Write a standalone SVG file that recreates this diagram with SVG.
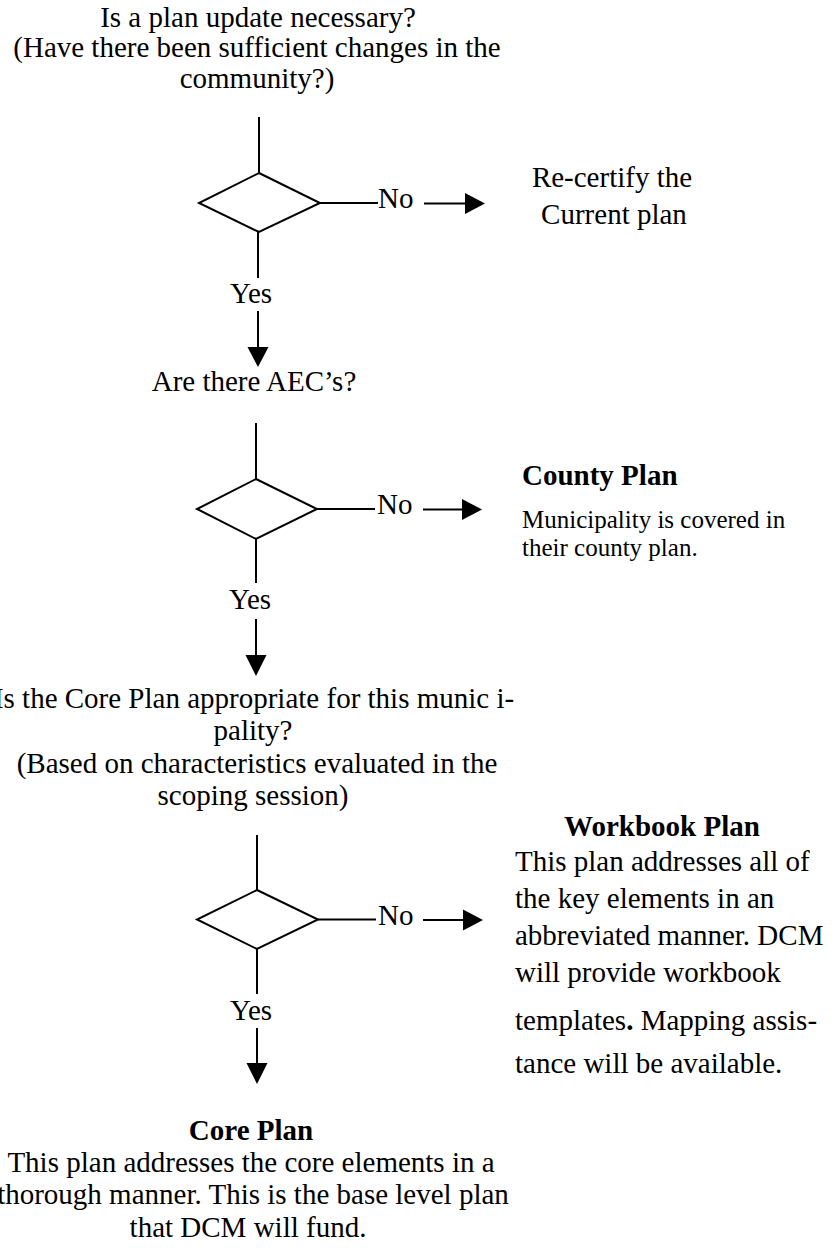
<svg xmlns="http://www.w3.org/2000/svg" width="836" height="1251" viewBox="0 0 836 1251">
<style>
text{font-family:"Liberation Serif","Times New Roman",serif;fill:#000;}
.t{font-size:29px;}
.c{text-anchor:middle;}
.b{font-weight:bold;}
.s{font-size:25px;}
.ln{stroke:#000;stroke-width:2;fill:none;}
.dm{stroke:#000;stroke-width:2;fill:#fff;}
.ah{fill:#000;stroke:none;}
</style>
<rect width="836" height="1251" fill="#fff"/>
<g id="q1">
<text class="t c" x="258" y="27">Is a plan update necessary?</text>
<text class="t c" x="257" y="57">(Have there been sufficient changes in the</text>
<text class="t c" x="257" y="88">community?)</text>
</g>
<g id="d1"><polygon class="dm" points="259,173 320,203 259,232 199,203"/></g>
<g id="recert">
<text class="t c" x="612" y="187">Re-certify the</text>
<text class="t c" x="614" y="224">Current plan</text>
</g>
<g id="q2"><text class="t c" x="254" y="391">Are there AEC’s?</text></g>
<g id="d2"><polygon class="dm" points="256,479 317,509 256,539 197,509"/></g>
<g id="county">
<text class="t b" x="522" y="485">County Plan</text>
<text class="s" x="522" y="528">Municipality is covered in</text>
<text class="s" x="522" y="556">their county plan.</text>
</g>
<g id="q3">
<text class="t c" x="254" y="708">Is the Core Plan appropriate for this munic i-</text>
<text class="t c" x="253" y="740">pality?</text>
<text class="t c" x="257" y="773">(Based on characteristics evaluated in the</text>
<text class="t c" x="253" y="805">scoping session)</text>
</g>
<g id="d3"><polygon class="dm" points="257,890 318,919.5 257,949 197,919.5"/></g>
<g id="workbook">
<text class="t b c" x="662" y="836">Workbook Plan</text>
<text class="t" x="515" y="871">This plan addresses all of</text>
<text class="t" x="515" y="908">the key elements in an</text>
<text class="t" x="515" y="945">abbreviated manner. DCM</text>
<text class="t" x="515" y="982">will provide workbook</text>
<text class="t" x="515" y="1030">templates<tspan class="b">.</tspan> Mapping assis-</text>
<text class="t" x="515" y="1073">tance will be available.</text>
</g>
<g id="core">
<text class="t b c" x="251" y="1140">Core Plan</text>
<text class="t c" x="251" y="1172">This plan addresses the core elements in a</text>
<text class="t c" x="253" y="1204">thorough manner. This is the base level plan</text>
<text class="t c" x="248" y="1237">that DCM will fund.</text>
</g>
<g id="connectors">
<line class="ln" x1="259" y1="117" x2="259" y2="173"/>
<line class="ln" x1="320" y1="203" x2="378" y2="203"/>
<text class="t" x="378" y="208">No</text>
<line class="ln" x1="424" y1="203.5" x2="466" y2="203.5"/>
<polygon class="ah" points="465,193 485,203.5 465,214"/>
<line class="ln" x1="258" y1="232" x2="258" y2="278"/>
<text class="t c" x="251" y="303">Yes</text>
<line class="ln" x1="258" y1="311" x2="258" y2="348"/>
<polygon class="ah" points="247.5,347 268.5,347 258,367"/>

<line class="ln" x1="256" y1="423" x2="256" y2="479"/>
<line class="ln" x1="317" y1="509" x2="375" y2="509"/>
<text class="t" x="377" y="514">No</text>
<line class="ln" x1="423" y1="509.5" x2="463" y2="509.5"/>
<polygon class="ah" points="462,499 482,509.5 462,520"/>
<line class="ln" x1="256" y1="539" x2="256" y2="583"/>
<text class="t c" x="250" y="609">Yes</text>
<line class="ln" x1="256" y1="619" x2="256" y2="656"/>
<polygon class="ah" points="245.5,655 266.5,655 256,676"/>

<line class="ln" x1="257" y1="835" x2="257" y2="890"/>
<line class="ln" x1="318" y1="919.5" x2="376" y2="919.5"/>
<text class="t" x="378" y="925">No</text>
<line class="ln" x1="423" y1="920" x2="464" y2="920"/>
<polygon class="ah" points="463,909.5 483,920 463,930.5"/>
<line class="ln" x1="257" y1="949" x2="257" y2="994"/>
<text class="t c" x="251" y="1020">Yes</text>
<line class="ln" x1="257" y1="1028" x2="257" y2="1064"/>
<polygon class="ah" points="246.5,1063 267.5,1063 257,1084"/>
</g>
</svg>
